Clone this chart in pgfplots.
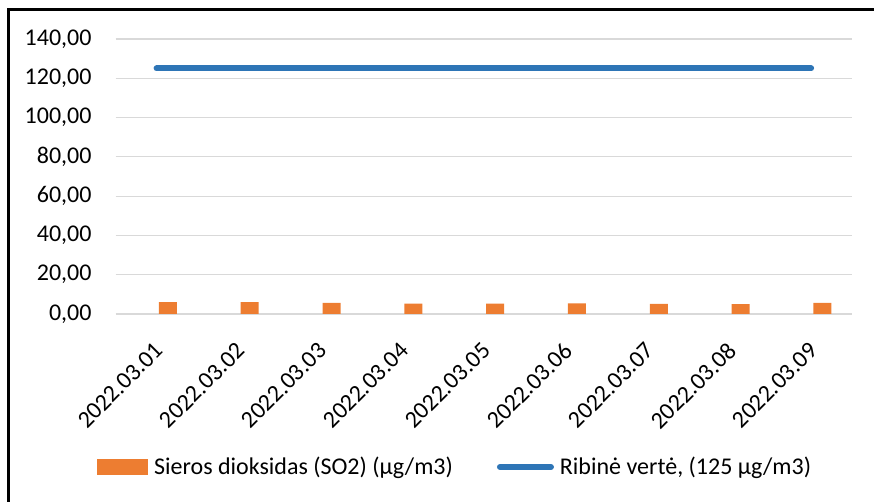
\documentclass[border=0pt]{standalone}
\usepackage{pgfplots}
\pgfplotsset{compat=1.18}
\usepackage{fontspec}
\setmainfont{Carlito}
\definecolor{soOrange}{HTML}{ED7D31}
\definecolor{soBlue}{HTML}{2E75B6}
\definecolor{gridGray}{HTML}{D9D9D9}
\begin{document}
\begin{tikzpicture}[x=1pt,y=1pt]
\useasboundingbox (0,0) rectangle (874,502);
\draw[line width=3pt] (8.8,-20) -- (8.8,492) -- (900,492);
\begin{axis}[
  at={(115.7pt,188pt)}, anchor=south west,
  scale only axis, width=736.3pt, height=275pt,
  xmin=-0.5, xmax=8.5, ymin=0, ymax=140,
  ytick={0,20,...,140},
  xtick={0,...,8},
  xticklabels={2022.03.01,2022.03.02,2022.03.03,2022.03.04,2022.03.05,2022.03.06,2022.03.07,2022.03.08,2022.03.09},
  axis line style={draw=none},
  major tick length=0pt,
  ymajorgrids, grid style={gridGray, line width=1.2pt},
  font=\fontsize{24}{28}\selectfont,
  /pgf/number format/.cd, fixed, fixed zerofill, precision=2, use comma, 1000 sep={}, assume math mode=true,
  /pgfplots/.cd,
  yticklabel style={anchor=east, inner sep=0pt, xshift=-24pt},
  xticklabel style={rotate=45, anchor=north east, inner sep=0pt, yshift=-16.7pt, xshift=-21.2pt},
  legend columns=2,
  legend style={at={(-0.0254,-0.5527)}, anchor=west, draw=none, fill=none,
    inner xsep=0pt, inner ysep=0pt,
    font=\fontsize{24}{28}\selectfont,
    nodes={inner sep=0pt, anchor=base west},
    column sep=6pt,
    /tikz/every even column/.append style={column sep=44pt}},
  clip=false,
]
\addplot[ybar, bar width=18pt, bar shift=11.3pt, fill=soOrange, draw=none,
  legend image code/.code={\fill[soOrange] (0pt,-1pt) rectangle (51pt,15pt);}]
  coordinates {(0,6.1) (1,6.1) (2,5.6) (3,5.25) (4,5.25) (5,5.4) (6,5.1) (7,5.05) (8,5.6)};
\addlegendentry{Sieros dioksidas (SO2) (µg/m3)}
\addplot[soBlue, line width=6pt, line cap=round,
  legend image code/.code={\draw[soBlue, line width=6pt, line cap=round] (3pt,7pt) -- (54pt,7pt);}]
  coordinates {(0,125) (1,125) (2,125) (3,125) (4,125) (5,125) (6,125) (7,125) (8,125)};
\addlegendentry{Ribinė vertė, (125 µg/m3)}
\end{axis}
\end{tikzpicture}
\end{document}
